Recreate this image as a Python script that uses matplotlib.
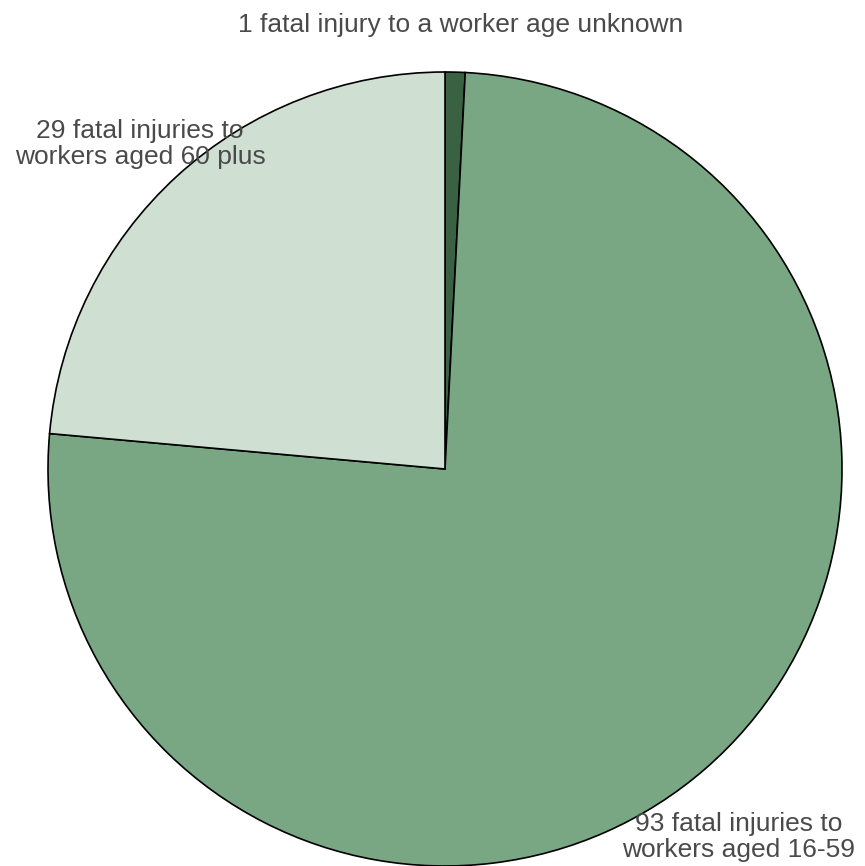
import matplotlib.pyplot as plt

plt.rcParams['font.family'] = ['Liberation Sans', 'DejaVu Sans']

# valeurs
categories = ["1 fatal injury to a worker age unknown",
              "93 fatal injuries to\nworkers aged 16-59",
              "29 fatal injuries to\nworkers aged 60 plus"]
valeurs = [1, 93, 29]
couleurs = ["#3b6143", "#79a783", "#cfe0d3"]

W, H = 865, 866
fig = plt.figure(figsize=(W / 100, H / 100), dpi=100)
ax = fig.add_axes([0, 0, 1, 1])

# centre et rayon en pixels (y compté depuis le bas)
cx, cy, r = 445, H - 469, 397
ax.pie(valeurs, colors=couleurs, startangle=90, counterclock=False,
       center=(cx, cy), radius=r, frame=True,
       wedgeprops=dict(edgecolor="black", linewidth=1.2))
ax.set_xlim(0, W)
ax.set_ylim(0, H)
ax.set_aspect("equal")
ax.axis("off")

# positions des étiquettes (pixels)
pos_labels = [(461, H - 25), (739, H - 837), (140, H - 144)]
for txt, (x, y) in zip(categories, pos_labels):
    ax.text(x, y, txt, ha="center", va="center", fontsize=19,
            color="#4a4a4a", linespacing=1.15)

fig.savefig("out.png", dpi=100)
